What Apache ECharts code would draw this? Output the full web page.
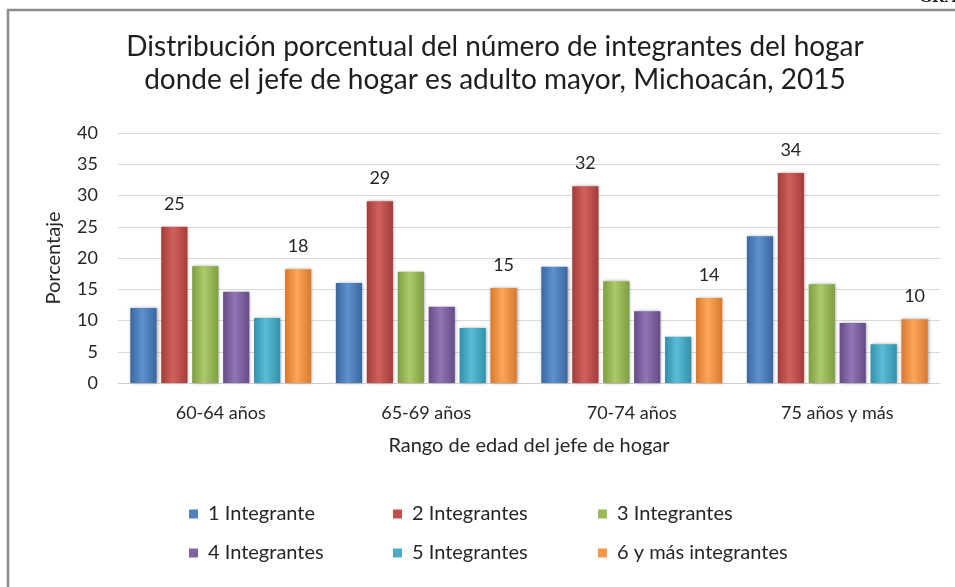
<!DOCTYPE html>
<html>
<head>
<meta charset="utf-8">
<script src="https://cdn.jsdelivr.net/npm/echarts@6/dist/echarts.min.js"></script>
<style>
html,body{margin:0;padding:0;background:#fff;}
#chart{width:955px;height:587px;}
</style>
</head>
<body>
<div id="chart"></div>
<script>
const categories = ['60-64 años', '65-69 años', '70-74 años', '75 años y más'];
const seriesNames = ['1 Integrante', '2 Integrantes', '3 Integrantes', '4 Integrantes', '5 Integrantes', '6 y más integrantes'];
const s1 = [12.0, 16.0, 18.6, 23.5];
const s2 = [25.0, 29.1, 31.5, 33.6];
const s3 = [18.7, 17.8, 16.3, 15.8];
const s4 = [14.6, 12.2, 11.5, 9.6];
const s5 = [10.4, 8.8, 7.4, 6.2];
const s6 = [18.2, 15.2, 13.6, 10.2];
const labeled = [false, true, false, false, false, true];
const yTicks = [0, 5, 10, 15, 20, 25, 30, 35, 40];
const titleLines = ['Distribución porcentual del número de integrantes del hogar', 'donde el jefe de hogar es adulto mayor, Michoacán, 2015'];
const yName = 'Porcentaje';
const xName = 'Rango de edad del jefe de hogar';
const cornerText = 'GRÁFICA';

const allData = [s1, s2, s3, s4, s5, s6];
const baseColors = ['#4F81BD', '#C0504D', '#9BBB59', '#8064A2', '#4BACC6', '#F79646'];
const darkColors = ['#3B679E', '#A33D3A', '#7F9D43', '#644C85', '#3390A9', '#D97A2E'];
const lightColors = ['#5E91D0', '#D2605C', '#ABCB68', '#9175B5', '#5BBDD7', '#FDA65A'];
const FONT = 'Lato';
const TXT = '#262626';

const legendPos = [[189, 504], [393, 504], [598, 504], [189, 543], [393, 543], [598, 543]];

const chart = echarts.init(document.getElementById('chart'), null, {renderer: 'canvas'});

const series = allData.map((d, i) => ({
  name: seriesNames[i],
  type: 'bar',
  data: d,
  barGap: '18%',
  barCategoryGap: '12%',
  itemStyle: {
    color: new echarts.graphic.LinearGradient(0, 0, 1, 0, [
      {offset: 0, color: darkColors[i]},
      {offset: 0.45, color: lightColors[i]},
      {offset: 1, color: darkColors[i]}
    ]),
    shadowColor: 'rgba(0,0,0,0.35)',
    shadowBlur: 3,
    shadowOffsetX: 1,
    shadowOffsetY: 0
  },
  label: {
    show: labeled[i],
    position: 'top',
    distance: 14,
    fontFamily: FONT,
    fontSize: 18,
    color: TXT,
    formatter: p => Math.round(p.value)
  }
}));

const legends = seriesNames.map((n, i) => ({
  data: [{name: n, icon: 'rect', itemStyle: {color: baseColors[i]}}],
  left: legendPos[i][0],
  top: legendPos[i][1],
  padding: 0,
  itemWidth: 9,
  itemHeight: 9,
  selectedMode: false,
  textStyle: {fontFamily: FONT, fontSize: 20, color: TXT, padding: [0, 0, 0, 5]}
}));

chart.setOption({
  animation: false,
  textStyle: {fontFamily: FONT},
  title: {
    text: titleLines.join('\n'),
    left: 490,
    textAlign: 'center',
    top: 25,
    textStyle: {fontFamily: FONT, fontSize: 28, fontWeight: 'normal', color: '#1e1e1e', lineHeight: 33}
  },
  graphic: [
    {type: 'rect', shape: {x: 8, y: 10, width: 960, height: 600}, style: {fill: 'none', stroke: '#8c8c8c', lineWidth: 2.5}, silent: true},
    {type: 'text', x: 919, y: 6, style: {text: cornerText, font: 'bold 17px "Liberation Serif"', fill: '#222', verticalAlign: 'bottom'}, silent: true}
  ],
  legend: legends,
  grid: {left: 118, right: 15, top: 133, bottom: 204, containLabel: false},
  xAxis: {
    type: 'category',
    data: categories,
    name: xName,
    nameLocation: 'middle',
    nameGap: 53,
    nameTextStyle: {fontFamily: FONT, fontSize: 20, color: TXT},
    axisLine: {lineStyle: {color: '#d0d0d0', width: 1}},
    axisTick: {show: false},
    axisLabel: {fontFamily: FONT, fontSize: 18, color: TXT, margin: 21}
  },
  yAxis: {
    type: 'value',
    min: yTicks[0],
    max: yTicks[yTicks.length - 1],
    interval: yTicks[1] - yTicks[0],
    name: yName,
    nameLocation: 'middle',
    nameGap: 54,
    nameRotate: 90,
    nameTextStyle: {fontFamily: FONT, fontSize: 20, color: TXT},
    axisLine: {show: false},
    axisTick: {show: false},
    splitLine: {lineStyle: {color: '#d9d9d9', width: 1}},
    axisLabel: {fontFamily: FONT, fontSize: 18, color: TXT, margin: 20}
  },
  series: series
});
</script>
</body>
</html>
